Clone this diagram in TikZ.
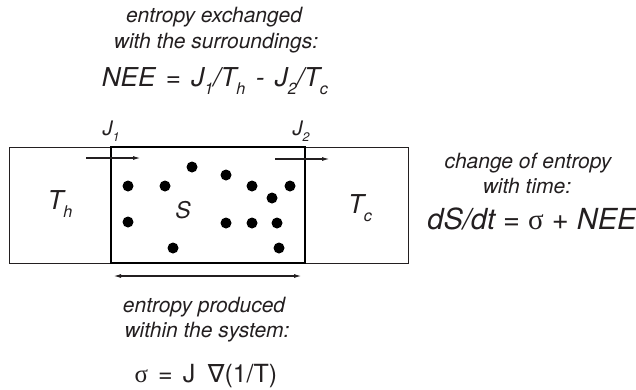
\documentclass[tikz,border=0pt]{standalone}
\usepackage{fontspec}
\setmainfont{TeX Gyre Heros}
\newfontfamily\symfont{DejaVu Sans}
\newfontfamily\serfont{Liberation Serif}
\usetikzlibrary{arrows.meta}
\definecolor{ink}{HTML}{231F20}
\newcommand\lsub[1]{\raisebox{-0.32em}{\scalebox{0.62}{#1}}}
\newcommand\fsmall{\fontsize{21}{25}\selectfont\itshape}
\newcommand\sig{{\serfont σ}}
\begin{document}
\begin{tikzpicture}[x=1pt,y=-1pt,
  every node/.style={text=ink, inner sep=0pt},
  thinbox/.style={draw=ink, line width=0.8pt, minimum height=116pt},
  sysbox/.style={draw=black, line width=2pt, minimum width=194pt, minimum height=116pt},
  txt/.style={anchor=base, font=\fsmall},
  formula/.style={anchor=base},
  flow/.style={draw=ink, line width=1.4pt, -{Latex[length=8pt,width=4pt]}},
  dot/.style={circle, fill=black, minimum size=11pt}]
\useasboundingbox (0,0) rectangle (636,389);

% boxes
\node[thinbox, minimum width=102pt] (hot) at (60,205) {};
\node[thinbox, minimum width=103pt] (cold) at (356.5,205) {};
\node[sysbox] (sys) at (208,205) {};

% labels in boxes
\node[anchor=base, font=\fontsize{26}{30}\selectfont\itshape] (th) at (60,209) {T\lsub{h}};
\node[anchor=base, font=\fontsize{26}{30}\selectfont\itshape] (tc) at (360,213) {T\lsub{c}};
\node[anchor=base, font=\fontsize{23}{27}\selectfont\itshape] (s) at (183,218) {S};

% particles
\foreach \n/\x/\y in {1/192/167, 2/226/175, 3/128/186, 4/165/186, 5/252/186, 6/290/186,
  7/272/198, 8/128/222, 9/226/223, 10/252/223, 11/277/223, 12/173/248, 13/279/248}
  \node[dot] (p\n) at (\x,\y) {};

% fluxes
\coordinate (j1s) at (86,158);
\coordinate (j1e) at (141,158);
\coordinate (j2s) at (275,159);
\coordinate (j2e) at (330,159);
\draw[flow] (j1s) -- (j1e);
\draw[flow] (j2s) -- (j2e);
\node[anchor=base, font=\fontsize{20}{24}\selectfont\itshape] (j1) at (111,135) {J\lsub{1}};
\node[anchor=base, font=\fontsize{20}{24}\selectfont\itshape] (j2) at (301,135) {J\lsub{2}};

% gradient arrow
\coordinate (gl) at (113,276);
\coordinate (gr) at (302,276);
\draw[draw=ink, line width=1.4pt, {Latex[length=8pt,width=4pt]}-{Latex[length=8pt,width=4pt]}] (gl) -- (gr);

% top texts
\node[txt] (t1) at (214,22) {entropy exchanged};
\node[txt] (t2) at (216,48) {with the surroundings:};
\node[formula, font=\fontsize{26}{31}\selectfont\itshape] (nee) at (215,86)
  {NEE\hspace{0.4em}=\hspace{0.4em}J\lsub{1}/T\lsub{h}\hspace{0.4em}-\hspace{0.4em}J\lsub{2}/T\lsub{c}};

% bottom texts
\node[txt] (b1) at (204,312) {entropy produced};
\node[txt] (b2) at (207,337) {within the system:};
\node[formula, font=\fontsize{25}{29}\selectfont] (sigma) at (206,382)
  {\sig\hspace{0.4em}=\hspace{0.4em}J\hspace{0.5em}{\symfont ∇}(1/T)};

% right texts
\node[txt] (r1) at (528,168) {change of entropy};
\node[txt] (r2) at (527,193) {with time:};
\node[formula, font=\fontsize{29}{34}\selectfont] (dsdt) at (532,229)
  {\itshape dS/dt \upshape= \sig\ + \itshape NEE};
\end{tikzpicture}
\end{document}
